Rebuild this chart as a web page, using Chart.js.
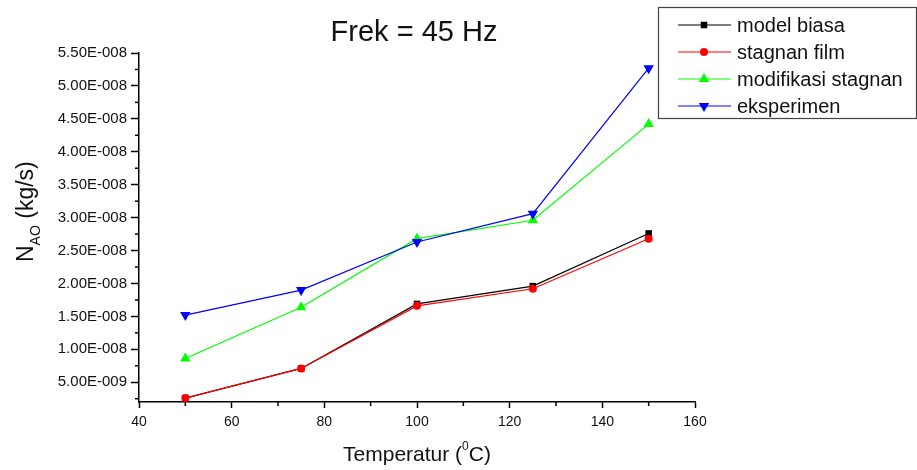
<!DOCTYPE html>
<html>
<head>
<meta charset="utf-8">
<title>Frek = 45 Hz</title>
<script src="https://cdn.jsdelivr.net/npm/chart.js@4.4.0/dist/chart.umd.min.js"></script>
<style>
  body { margin: 0; background: #fff; }
  #wrap { width: 917px; height: 470px; }
</style>
</head>
<body>
<div id="wrap"><canvas id="chart" width="917" height="470"></canvas></div>
<script>
// temperatures (deg C)
const temperatures = [50, 75, 100, 125, 150];

// N_AO (kg/s)
const modelBiasa = [2.6e-9, 7.1e-9, 1.69e-8, 1.96e-8, 2.76e-8];
const stagnanFilm = [2.6e-9, 7.1e-9, 1.66e-8, 1.92e-8, 2.68e-8];
const modifikasiStagnan = [8.6e-9, 1.64e-8, 2.68e-8, 2.96e-8, 4.42e-8];
const eksperimen = [1.52e-8, 1.9e-8, 2.63e-8, 3.06e-8, 5.27e-8];

const seriesNames = ["model biasa", "stagnan film", "modifikasi stagnan", "eksperimen"];

const yTicks = [5e-9, 1e-8, 1.5e-8, 2e-8, 2.5e-8, 3e-8, 3.5e-8, 4e-8, 4.5e-8, 5e-8, 5.5e-8];
const xTicks = [40, 60, 80, 100, 120, 140, 160];

const FONT = "'Liberation Sans', Arial, sans-serif";

function toPoints(values) {
  return values.map((v, i) => ({ x: temperatures[i], y: v }));
}

// 5e-9 -> "5.00E-009"
function sciLabel(v) {
  const parts = Number(v).toExponential(2).split("e");
  const exp = parseInt(parts[1], 10);
  const sign = exp < 0 ? "-" : "+";
  return parts[0] + "E" + sign + String(Math.abs(exp)).padStart(3, "0");
}

function dataset(label, values, color, style, radius, rotation, order) {
  return {
    label: label,
    data: toPoints(values),
    borderColor: color,
    backgroundColor: color,
    borderWidth: 1.2,
    pointStyle: style,
    pointRadius: radius,
    pointRotation: rotation,
    pointBorderWidth: 0,
    pointBackgroundColor: color,
    order: order,
    clip: false,
  };
}

const datasets = [
  dataset(seriesNames[0], modelBiasa, "#000000", "rect", 4.6, 0, 4),
  dataset(seriesNames[1], stagnanFilm, "#ff0000", "circle", 4, 0, 3),
  dataset(seriesNames[2], modifikasiStagnan, "#00ff00", "triangle", 6, 0, 2),
  dataset(seriesNames[3], eksperimen, "#0000ff", "triangle", 6, 180, 1),
];

// minor ticks, titles and the boxed legend
const extrasPlugin = {
  id: "extras",
  afterDraw(chart) {
    const ctx = chart.ctx;
    const xs = chart.scales.x;
    const ys = chart.scales.y;
    const area = chart.chartArea;

    ctx.save();
    ctx.strokeStyle = "#000";
    ctx.lineWidth = 1.5;
    for (let t = 50; t < 160; t += 20) {
      const px = xs.getPixelForValue(t);
      ctx.beginPath();
      ctx.moveTo(px, area.bottom);
      ctx.lineTo(px, area.bottom + 4);
      ctx.stroke();
    }
    for (let k = 0; k < yTicks.length; k++) {
      const v = yTicks[k] - 2.5e-9;
      if (v < ys.min) continue;
      const py = ys.getPixelForValue(v);
      ctx.beginPath();
      ctx.moveTo(area.left, py);
      ctx.lineTo(area.left - 4, py);
      ctx.stroke();
    }

    // chart title
    ctx.fillStyle = "#111";
    ctx.textAlign = "center";
    ctx.textBaseline = "alphabetic";
    ctx.font = "29px " + FONT;
    ctx.fillText("Frek = 45 Hz", 414, 41);

    // x axis title with superscript
    ctx.textAlign = "left";
    ctx.font = "21px " + FONT;
    const a = "Temperatur (";
    const wA = ctx.measureText(a).width;
    ctx.font = "12px " + FONT;
    const wSup = ctx.measureText("0").width;
    ctx.font = "21px " + FONT;
    const wB = ctx.measureText("C)").width;
    let x0 = 417 - (wA + wSup + wB) / 2;
    ctx.fillText(a, x0, 461);
    ctx.font = "12px " + FONT;
    ctx.fillText("0", x0 + wA, 450);
    ctx.font = "21px " + FONT;
    ctx.fillText("C)", x0 + wA + wSup, 461);

    // y axis title with subscript, rotated
    ctx.save();
    ctx.translate(33, 262);
    ctx.rotate(-Math.PI / 2);
    ctx.font = "23px " + FONT;
    ctx.fillText("N", 0, 0);
    const wN = ctx.measureText("N").width;
    ctx.font = "14px " + FONT;
    ctx.fillText("AO", wN, 7);
    const wAO = ctx.measureText("AO").width;
    ctx.font = "23px " + FONT;
    ctx.fillText(" (kg/s)", wN + wAO, 0);
    ctx.restore();

    // legend
    ctx.strokeStyle = "#444";
    ctx.lineWidth = 1.2;
    ctx.strokeRect(658.5, 7.5, 258, 111);
    ctx.font = "20px " + FONT;
    chart.data.datasets.forEach((ds, i) => {
      const ly = 25 + i * 27;
      ctx.strokeStyle = ds.borderColor;
      ctx.lineWidth = 1.2;
      ctx.beginPath();
      ctx.moveTo(678, ly);
      ctx.lineTo(731, ly);
      ctx.stroke();
      ctx.fillStyle = ds.pointBackgroundColor;
      if (Chart.helpers && Chart.helpers.drawPoint) {
        Chart.helpers.drawPoint(ctx, {
          pointStyle: ds.pointStyle,
          rotation: ds.pointRotation,
          radius: ds.pointRadius,
          borderWidth: 0,
        }, 704, ly);
      }
      ctx.fillStyle = "#111";
      ctx.textBaseline = "middle";
      ctx.fillText(ds.label, 737, ly + 1);
    });
    ctx.restore();
  },
};

new Chart(document.getElementById("chart"), {
  type: "line",
  data: { datasets: datasets },
  options: {
    responsive: false,
    animation: false,
    layout: { padding: { top: 53, right: 222, left: 0, bottom: 0 } },
    plugins: {
      legend: { display: false },
      title: { display: false },
      tooltip: { enabled: false },
    },
    scales: {
      x: {
        type: "linear",
        min: 40,
        max: 160,
        afterBuildTicks: (scale) => {
          scale.ticks = xTicks.map((v) => ({ value: v }));
        },
        afterFit: (scale) => {
          scale.height = 68;
        },
        border: { display: true, color: "#000", width: 1.5 },
        grid: {
          drawOnChartArea: false,
          drawTicks: true,
          tickLength: 6,
          tickColor: "#000",
          tickWidth: 1.5,
        },
        ticks: {
          color: "#111",
          font: { family: FONT, size: 14 },
          padding: 6,
          maxRotation: 0,
          autoSkip: false,
        },
      },
      y: {
        type: "linear",
        min: 2e-9,
        max: 5.5e-8,
        afterBuildTicks: (scale) => {
          scale.ticks = yTicks.map((v) => ({ value: v }));
        },
        afterFit: (scale) => {
          scale.width = 139;
        },
        border: { display: true, color: "#000", width: 1.5 },
        grid: {
          drawOnChartArea: false,
          drawTicks: true,
          tickLength: 8,
          tickColor: "#000",
          tickWidth: 1.5,
        },
        ticks: {
          color: "#111",
          font: { family: FONT, size: 15 },
          padding: 4,
          autoSkip: false,
          callback: (v) => sciLabel(v),
        },
      },
    },
  },
  plugins: [extrasPlugin],
});
</script>
</body>
</html>
